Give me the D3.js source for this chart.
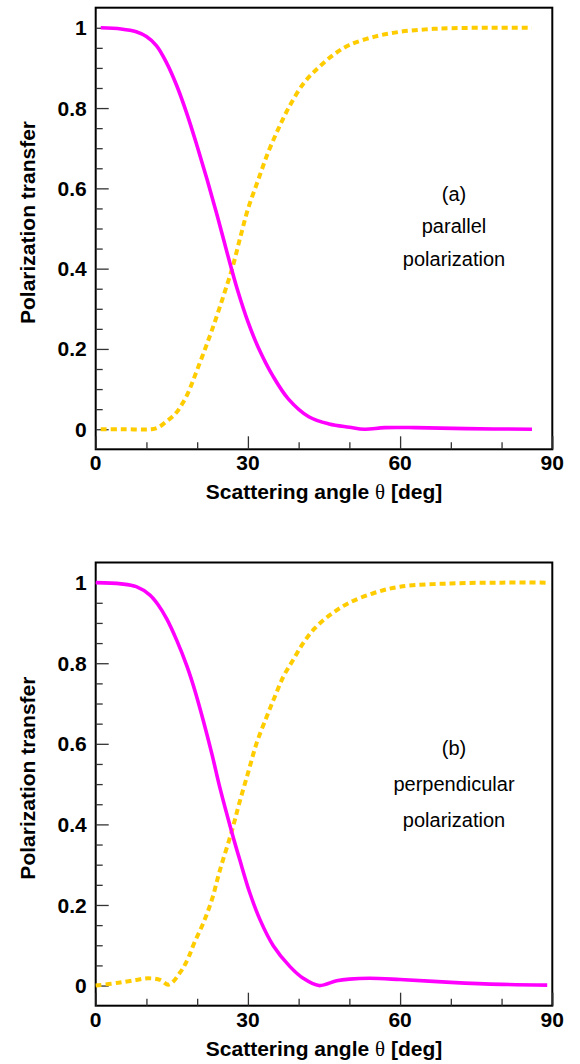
<!DOCTYPE html>
<html>
<head>
<meta charset="utf-8">
<script src="https://cdn.jsdelivr.net/npm/d3@7"></script>
<style>
  body { margin: 0; background: #fff; }
  svg { display: block; }
  text { font-family: "Liberation Sans", Arial, Helvetica, sans-serif; }
</style>
</head>
<body>
<div id="chart"></div>
<script>
// panel (a): parallel polarization
const topAngleM = [1, 5, 8, 10, 12, 14, 16, 18, 20, 22, 24, 26, 28, 30, 32, 35, 38, 42, 46, 50, 53, 57, 63, 73, 86];
const topMagenta = [1.0, 0.997, 0.99, 0.978, 0.955, 0.912, 0.855, 0.785, 0.705, 0.62, 0.53, 0.435, 0.345, 0.268, 0.205, 0.131, 0.075, 0.031, 0.013, 0.005, 0.0, 0.004, 0.004, 0.0015, 0.0];
const topAngleY = [1, 5, 11, 12, 13, 14, 15, 16, 17, 18, 19, 20, 21.5, 23, 25, 27, 28.5, 30, 32, 34, 36, 38, 41, 44, 47, 50, 55, 60, 65, 70, 78, 86];
const topYellow = [0, 0, 0, 0.003, 0.01, 0.02, 0.03, 0.043, 0.062, 0.085, 0.115, 0.148, 0.198, 0.25, 0.325, 0.405, 0.478, 0.548, 0.62, 0.69, 0.748, 0.8, 0.862, 0.902, 0.934, 0.957, 0.978, 0.99, 0.996, 0.999, 1.0, 1.0];

// panel (b): perpendicular polarization
const botAngleM = [0, 5, 8, 10.7, 12.3, 14, 16, 18, 19.6, 21.2, 22.9, 24.5, 26.8, 28.4, 30.4, 32.4, 35, 38.3, 40.9, 44, 47.5, 50, 54, 60, 70, 80, 89];
const botMagenta = [1.0, 0.997, 0.99, 0.969, 0.945, 0.91, 0.856, 0.792, 0.73, 0.658, 0.575, 0.49, 0.382, 0.312, 0.229, 0.163, 0.099, 0.047, 0.018, 0.0, 0.012, 0.016, 0.018, 0.015, 0.008, 0.003, 0.001];
const botAngleY = [0, 4.5, 8, 10.4, 12.7, 14.3, 15.3, 16.5, 17.3, 18.3, 19.4, 21.2, 22.9, 24.5, 26.8, 28.4, 30.1, 31.7, 33.7, 35.3, 37, 38.9, 40.9, 43.2, 46.2, 49.8, 55, 60, 70, 80, 89];
const botYellow = [0, 0.007, 0.014, 0.018, 0.014, 0.002, 0.01, 0.03, 0.045, 0.07, 0.105, 0.155, 0.213, 0.287, 0.382, 0.457, 0.531, 0.601, 0.667, 0.717, 0.767, 0.808, 0.85, 0.887, 0.92, 0.949, 0.975, 0.99, 0.998, 1.0, 1.0];

// ticks
const xMajor = [0, 30, 60, 90];
const xMinor = [10, 20, 40, 50, 70, 80];
const yMajor = [0, 0.2, 0.4, 0.6, 0.8, 1];
const yMinor = d3.range(0.05, 1.0, 0.05).filter(v => Math.abs(v / 0.2 - Math.round(v / 0.2)) > 0.01);

const xTitle = "Scattering angle ";
const yTitle = "Polarization transfer";
const topLabels = ["(a)", "parallel", "polarization"];
const botLabels = ["(b)", "perpendicular", "polarization"];

const W = 580, H = 1064;
const svg = d3.select("#chart").append("svg").attr("width", W).attr("height", H);

function drawPanel(top, bottom, mAngle, mVal, yAngle, yVal, labels, labelY) {
    const x = d3.scaleLinear().domain([0, 90]).range([95.7, 552.3]);
    const y = d3.scaleLinear().domain([-0.05, 1.05]).range([bottom, top]);
    const g = svg.append("g");

    // frame
    g.append("rect")
        .attr("x", x(0)).attr("y", top)
        .attr("width", x(90) - x(0)).attr("height", bottom - top)
        .attr("fill", "none").attr("stroke", "#000").attr("stroke-width", 2);

    // y ticks (pointing inward)
    const yAx = g.append("g").attr("transform", `translate(${x(0)},0)`);
    yAx.call(d3.axisRight(y).tickValues(yMajor).tickSize(13).tickFormat(""));
    yAx.append("g").call(d3.axisRight(y).tickValues(yMinor).tickSize(7).tickFormat(""));
    yAx.selectAll(".domain").remove();
    yAx.selectAll("line").attr("stroke", "#333").attr("stroke-width", 1.3);

    g.selectAll(".ylab").data(yMajor).enter().append("text")
        .attr("x", x(0) - 9).attr("y", d => y(d)).attr("dy", "0.36em")
        .attr("text-anchor", "end").attr("font-weight", "bold").attr("font-size", 21)
        .text(d => d3.format("~g")(d));

    // x ticks (pointing up)
    const xAx = g.append("g").attr("transform", `translate(0,${bottom})`);
    xAx.call(d3.axisTop(x).tickValues(xMajor).tickSize(13).tickFormat(""));
    xAx.append("g").call(d3.axisTop(x).tickValues(xMinor).tickSize(7).tickFormat(""));
    xAx.selectAll(".domain").remove();
    xAx.selectAll("line").attr("stroke", "#333").attr("stroke-width", 1.3);

    g.selectAll(".xlab").data(xMajor).enter().append("text")
        .attr("x", d => x(d)).attr("y", bottom + 21)
        .attr("text-anchor", "middle").attr("font-weight", "bold").attr("font-size", 21)
        .text(d => d);

    // axis titles
    const xt = g.append("text")
        .attr("x", (x(0) + x(90)) / 2).attr("y", bottom + 50)
        .attr("text-anchor", "middle").attr("font-weight", "bold").attr("font-size", 21);
    xt.append("tspan").text(xTitle);
    xt.append("tspan").attr("font-weight", "normal").attr("font-family", "'Liberation Serif', serif").text("\u03b8");
    xt.append("tspan").text(" [deg]");

    g.append("text")
        .attr("transform", `translate(35,${(top + bottom) / 2 - 6}) rotate(-90)`)
        .attr("text-anchor", "middle").attr("font-weight", "bold").attr("font-size", 21)
        .text(yTitle);

    // curves
    const line = d3.line().x(d => x(d[0])).y(d => y(d[1])).curve(d3.curveCatmullRom.alpha(0.5));
    g.append("path")
        .attr("d", line(d3.zip(yAngle, yVal)))
        .attr("fill", "none").attr("stroke", "#ffcc00").attr("stroke-width", 4)
        .attr("stroke-dasharray", "6,4");
    g.append("path")
        .attr("d", line(d3.zip(mAngle, mVal)))
        .attr("fill", "none").attr("stroke", "#ff00ff").attr("stroke-width", 3.6);

    // annotation
    g.selectAll(".note").data(labels).enter().append("text")
        .attr("x", 454).attr("y", (d, i) => labelY[i])
        .attr("text-anchor", "middle").attr("font-size", 20)
        .text(d => d);
}

drawPanel(7.7, 449.3, topAngleM, topMagenta, topAngleY, topYellow, topLabels, [201, 233, 266]);
drawPanel(562.5, 1005.7, botAngleM, botMagenta, botAngleY, botYellow, botLabels, [755, 791, 827]);
</script>
</body>
</html>
